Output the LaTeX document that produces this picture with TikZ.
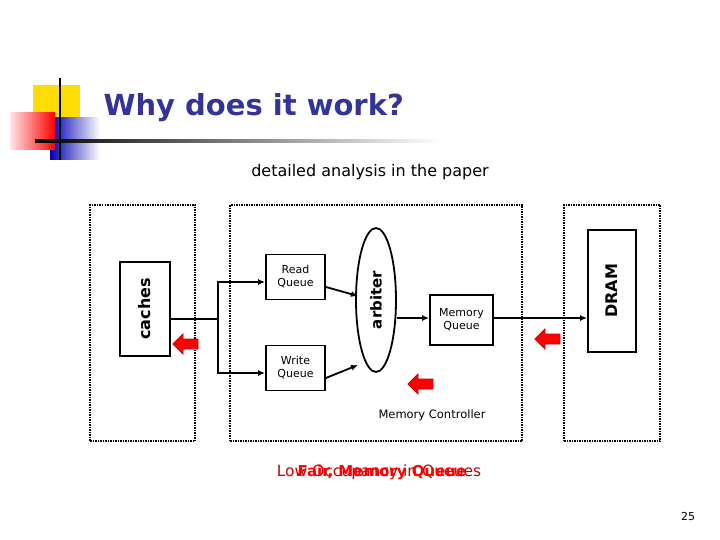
\documentclass[tikz,border=0pt]{standalone}
\usepackage{fontspec}
\setmainfont{DejaVu Sans}
\usetikzlibrary{shapes.geometric,arrows.meta}
\definecolor{tblue}{RGB}{51,51,153}
\definecolor{rred}{RGB}{204,0,0}
\begin{document}
\begin{tikzpicture}[x=1pt,y=-1pt,
  dbox/.style={draw,line width=1.8pt,dash pattern=on 1.5pt off 1pt},
  box/.style={draw,line width=1.8pt,fill=white},
  lbl/.style={font=\fontsize{11}{13}\selectfont,align=center},
  conn/.style={line width=1.8pt,-{Latex[length=7pt,width=6pt]}},
  redarr/.pic={\fill[red,draw=rred,line width=0.8pt] (-13,0) -- (-3,-10) -- (-3,-5) -- (12,-5) -- (12,5) -- (-3,5) -- (-3,10) -- cycle;}]
\useasboundingbox (0,0) rectangle (720,540);
% logo
\fill[yellow!80!orange] (33,85) rectangle (80,130);
\shade[left color=blue!70!black,right color=white] (50,118) rectangle (100,160);
\shade[left color=red!10,right color=red] (10,113) rectangle (55,150);
\draw[line width=1.5pt] (60,78) -- (60,160);
\shade[left color=black,right color=white] (35,140) rectangle (440,142.5);
\node[font=\bfseries\fontsize{29}{32}\selectfont,text=tblue,anchor=west] (title) at (100,108) {Why does it work?};
\node[font=\fontsize{16}{18}\selectfont] (sub) at (370,172) {detailed analysis in the paper};
% dotted boxes
\node[dbox,minimum width=105pt,minimum height=236pt,inner sep=0pt] (lb) at (142.5,323) {};
\node[dbox,minimum width=292pt,minimum height=236pt,inner sep=0pt] (mb) at (376,323) {};
\node[dbox,minimum width=96pt,minimum height=236pt,inner sep=0pt] (rb) at (612,323) {};
% inner
\node[box,minimum width=50pt,minimum height=94pt,inner sep=0pt] (cache) at (145,309) {};
\node[rotate=90,font=\bfseries\fontsize{16}{18}\selectfont] at (cache) {caches};
\node[box,minimum width=48pt,minimum height=122pt,inner sep=0pt] (dram) at (612,291) {};
\node[rotate=90,font=\bfseries\fontsize{16}{18}\selectfont] at (dram) {DRAM};
\node[box,lbl,minimum width=59pt,minimum height=45pt,inner sep=0pt] (rq) at (295.5,277) {Read\\Queue};
\node[box,lbl,minimum width=59pt,minimum height=45pt,inner sep=0pt] (wq) at (295.5,368) {Write\\Queue};
\node[box,ellipse,minimum width=40pt,minimum height=144pt,inner sep=0pt] (arb) at (376,300) {};
\node[rotate=90,font=\bfseries\fontsize{15}{17}\selectfont] at (arb) {arbiter};
\node[box,lbl,minimum width=63pt,minimum height=50pt,inner sep=0pt] (mq) at (461.5,320) {Memory\\Queue};
\coordinate (j) at (218,319);
\draw[line width=1.8pt] (cache.east |- j) -- (j);
\draw[conn] (j) |- (rq.west |- 0,282);
\draw[conn] (j) |- (wq.west |- 0,373);
\draw[conn] (rq.east |- 0,287) -- (358,296);
\draw[conn] (wq.east |- 0,378) -- (358,365);
\draw[conn] (arb.east |- 0,318) -- (mq.west |- 0,318);
\draw[conn] (mq.east |- 0,318) -- (dram.west |- 0,318);
\pic at (186,344) {redarr};
\pic at (548,339) {redarr};
\pic at (421,384) {redarr};
\node[font=\fontsize{11.5}{13}\selectfont] (mc) at (432,415) {Memory Controller};
\node[font=\fontsize{15.5}{17}\selectfont,text=rred] (low) at (379,472) {Low Occupancy in Queues};
\node[font=\bfseries\fontsize{15}{17}\selectfont,text=red] (fair) at (382,472) {Fair, Memory Queue};
\node[font=\fontsize{11}{13}\selectfont] (pg) at (688,516) {25};
\end{tikzpicture}
\end{document}
